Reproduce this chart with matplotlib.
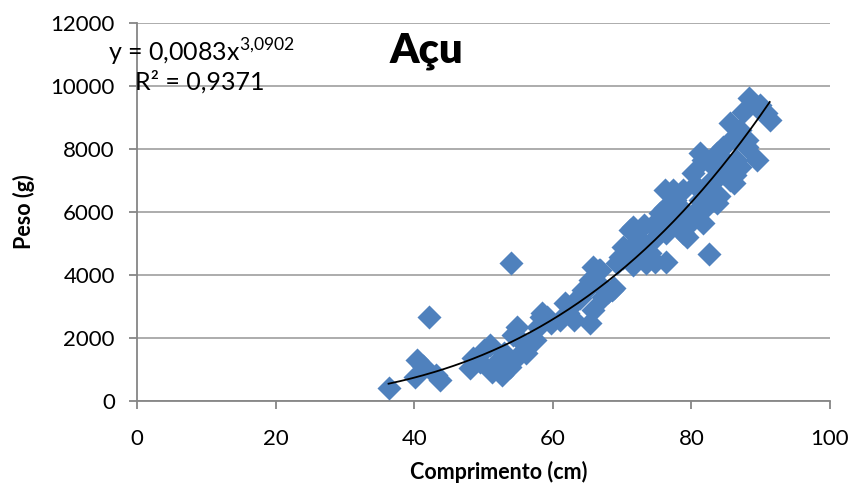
import numpy as np
import matplotlib
matplotlib.use("Agg")
import matplotlib.pyplot as plt

plt.rcParams['font.family'] = ['Lato', 'DejaVu Sans']
plt.rcParams['mathtext.fontset'] = 'custom'
plt.rcParams['mathtext.rm'] = 'Lato'

# Data: comprimento (cm) vs peso (g)
comprimento = [
    36.3, 40.4, 41.3, 40.1, 43.2, 43.7, 42.2, 48.1, 48.5, 50.0,
    50.9, 51.2, 52.2, 52.9, 53.8, 54.3, 54.8, 55.7, 57.2, 58.4,
    59.8, 57.9, 56.2, 54.8, 49.5, 52.6, 61.8, 54.0, 59.1, 61.0,
    63.0, 62.5, 64.4, 65.8, 65.4, 66.6, 68.5, 67.3, 69.7, 71.1,
    73.5, 76.4, 71.1, 73.1, 75.0, 78.8, 69.2, 65.4, 63.4, 72.1,
    70.2, 74.5, 82.5, 74.0, 77.4, 81.2, 84.6, 89.4, 88.0, 80.3,
    83.7, 86.1, 79.3, 75.5, 81.7, 78.4, 82.2, 84.6, 79.8, 76.4,
    80.8, 87.0, 83.2, 88.3, 90.8, 91.3, 85.6, 87.5, 89.6, 88.0,
    83.7, 86.1, 86.5, 87.0, 86.3, 85.6, 84.8, 83.0, 82.4, 81.2,
    80.5, 78.8, 77.6, 77.2, 76.2, 76.9, 78.4, 75.5, 72.6, 70.9,
    70.1, 68.8, 68.0, 66.8, 66.5, 64.5, 63.9, 62.2, 58.3, 57.4,
    71.6, 74.7, 82.8, 84.0, 85.0, 65.8, 71.6, 76.2, 89.9, 81.7,
]
peso = [
    400, 1300, 1110, 750, 830, 670, 2680, 1040, 1350, 1620,
    1780, 930, 1300, 1510, 1090, 2100, 1410, 1830, 1940, 2780,
    2470, 2360, 1510, 2360, 1250, 830, 3100, 4380, 2680, 2570,
    2570, 2990, 3520, 2890, 2470, 4160, 3520, 3310, 4580, 4480,
    4370, 4420, 5430, 5590, 5430, 5320, 4370, 3840, 3210, 4790,
    4900, 5110, 4670, 4690, 6700, 7860, 8070, 7650, 8070, 7230,
    6270, 6910, 5220, 5960, 5640, 6170, 6700, 7230, 5640, 5320,
    6060, 7440, 7440, 9610, 9130, 8920, 8820, 9180, 9290, 8290,
    7860, 8390, 7650, 8600, 7170, 7020, 7330, 7020, 6220, 6380,
    6860, 6700, 6380, 6630, 6130, 5590, 5900, 5810, 5110, 4790,
    4540, 3590, 3460, 4160, 3750, 3460, 3270, 2800, 2670, 1940,
    4320, 4410, 6900, 6500, 7600, 4260, 5530, 6700, 9400, 7650,
]

# Power trendline shown on chart
coef_a = 0.0083
coef_b = 3.0902
eq_label = r"y = 0,0083x$^{\mathregular{3{,}0902}}$"
r2_label = "R² = 0,9371"
title = "Açu"
x_ticks = [0, 20, 40, 60, 80, 100]
y_ticks = [0, 2000, 4000, 6000, 8000, 10000, 12000]

W, H = 856, 488
fig = plt.figure(figsize=(W / 100, H / 100), dpi=100)
ax = fig.add_axes([137 / W, 1 - 401 / H, (830 - 137) / W, (401 - 23) / H])

blue = '#4F81BD'
ax.scatter(comprimento, peso, marker='D', s=150, color=blue,
           edgecolors=blue, linewidths=0, zorder=3)

xs = np.linspace(min(comprimento), max(comprimento), 200)
ax.plot(xs, coef_a * xs ** coef_b, color='black', lw=1.3, zorder=4)

ax.set_xlim(0, 100)
ax.set_ylim(0, 12000)
ax.set_xticks(x_ticks)
ax.set_yticks(y_ticks)
ax.set_xticklabels([str(t) for t in x_ticks])
ax.set_yticklabels([str(t) for t in y_ticks])

grid_c = '#A6A6A6'
ax.yaxis.grid(True, color=grid_c, lw=1.3, zorder=0)
ax.set_axisbelow(True)
for s in ['top', 'right']:
    ax.spines[s].set_visible(False)
for s in ['left', 'bottom']:
    ax.spines[s].set_color('#868686')
    ax.spines[s].set_linewidth(1.3)
ax.tick_params(axis='both', colors='#868686', labelcolor='black',
               labelsize=16, length=6, width=1.3, direction='out')
ax.tick_params(axis='y', pad=10)
ax.tick_params(axis='x', pad=14)

fig.text(499 / W, 1 - 472 / H, "Comprimento (cm)", ha='center', va='center',
         fontsize=15.5, fontweight='bold')
fig.text(24 / W, 1 - 212 / H, "Peso (g)", ha='center', va='center',
         rotation=90, fontsize=15.5, fontweight='bold')
fig.text(426 / W, 1 - 62 / H, title, ha='center', va='baseline',
         fontsize=30, fontweight='heavy')
fig.text(108 / W, 1 - 62 / H, eq_label, ha='left', va='baseline', fontsize=18)
fig.text(135 / W, 1 - 90 / H, r2_label, ha='left', va='baseline', fontsize=18)

fig.savefig('out.png', dpi=100)
